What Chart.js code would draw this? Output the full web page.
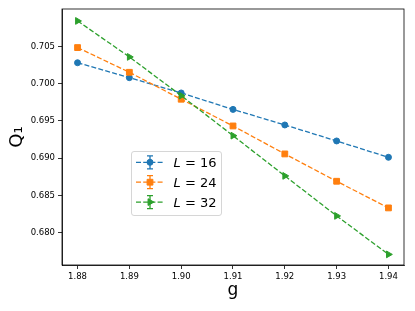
<!DOCTYPE html>
<html lang="en">
<head>
    <meta charset="UTF-8">
    <title>Q1 vs g</title>
    <script src="https://cdn.jsdelivr.net/npm/chart.js"></script>
    <style>
        html, body { margin: 0; padding: 0; background: #fff; }
        .chart-container { width: 415px; height: 311px; }
    </style>
</head>
<body>
    <div class="chart-container">
        <canvas id="q1Chart"></canvas>
    </div>

    <script>
        // data
        const gValues = [1.88, 1.89, 1.90, 1.91, 1.92, 1.93, 1.94];
        const sizes = [16, 24, 32];
        const q1L16 = [0.7028, 0.7008, 0.69875, 0.69655, 0.69446, 0.69232, 0.69013];
        const q1L24 = [0.70483, 0.70152, 0.69791, 0.69433, 0.69058, 0.68692, 0.68335];
        const q1L32 = [0.7084, 0.70358, 0.69839, 0.69303, 0.68764, 0.68228, 0.67712];
        const xTicks = [1.88, 1.89, 1.90, 1.91, 1.92, 1.93, 1.94];
        const yTicks = [0.680, 0.685, 0.690, 0.695, 0.700, 0.705];

        const colors = ['#1f77b4', '#ff7f0e', '#2ca02c'];
        const markers = [
            { pointStyle: 'circle', rotation: 0, radius: 3 },
            { pointStyle: 'rect', rotation: 0, radius: 4.1 },
            { pointStyle: 'triangle', rotation: 90, radius: 3.9 }
        ];
        const seriesValues = [q1L16, q1L24, q1L32];
        const tickFont = { family: 'DejaVu Sans', size: 8.5 };

        function makeDataset(i) {
            return {
                label: 'L = ' + sizes[i],
                data: gValues.map((g, k) => ({ x: g, y: seriesValues[i][k] })),
                borderColor: colors[i],
                backgroundColor: colors[i],
                borderWidth: 1.3,
                borderDash: [5, 2.2],
                pointStyle: markers[i].pointStyle,
                pointRotation: markers[i].rotation,
                pointRadius: markers[i].radius,
                pointBorderWidth: 1,
                pointBorderColor: colors[i],
                pointBackgroundColor: colors[i],
                tension: 0,
                order: 3 - i
            };
        }

        // matplotlib style frame round the plot area
        const framePlugin = {
            id: 'frame',
            afterDraw(chart) {
                const { ctx, chartArea: a } = chart;
                ctx.save();
                ctx.strokeStyle = '#000';
                ctx.lineWidth = 0.8;
                ctx.strokeRect(a.left, a.top, a.right - a.left, a.bottom - a.top);
                ctx.restore();
            }
        };

        // legend with error bar handles, placed inside the axes
        const legendPlugin = {
            id: 'innerLegend',
            afterDraw(chart) {
                const ctx = chart.ctx;
                const box = { x: 131, y: 151, w: 90, h: 64 };
                ctx.save();
                ctx.beginPath();
                ctx.roundRect(box.x + 0.5, box.y + 0.5, box.w, box.h, 2.5);
                ctx.fillStyle = 'rgba(255,255,255,0.8)';
                ctx.fill();
                ctx.strokeStyle = '#cccccc';
                ctx.lineWidth = 0.8;
                ctx.stroke();

                sizes.forEach((L, i) => {
                    const cy = 162.3 + i * 19.9;
                    const cx = 150;
                    ctx.strokeStyle = colors[i];
                    ctx.fillStyle = colors[i];
                    ctx.lineWidth = 1.3;
                    ctx.setLineDash([5, 2.2]);
                    ctx.beginPath();
                    ctx.moveTo(136, cy);
                    ctx.lineTo(163, cy);
                    ctx.stroke();
                    ctx.setLineDash([]);
                    ctx.beginPath();
                    ctx.moveTo(cx, cy - 6.5);
                    ctx.lineTo(cx, cy + 6.5);
                    ctx.moveTo(cx - 3, cy - 6.5);
                    ctx.lineTo(cx + 3, cy - 6.5);
                    ctx.moveTo(cx - 3, cy + 6.5);
                    ctx.lineTo(cx + 3, cy + 6.5);
                    ctx.stroke();
                    ctx.lineWidth = 1;
                    Chart.helpers.drawPoint(ctx, {
                        pointStyle: markers[i].pointStyle,
                        rotation: markers[i].rotation,
                        radius: markers[i].radius,
                        borderWidth: 1
                    }, cx, cy);

                    ctx.fillStyle = '#000';
                    ctx.textBaseline = 'alphabetic';
                    ctx.textAlign = 'left';
                    ctx.font = 'italic 13px "DejaVu Sans"';
                    ctx.fillText('L', 173.5, cy + 4.6);
                    const lw = ctx.measureText('L').width;
                    ctx.font = '13px "DejaVu Sans"';
                    ctx.fillText(' = ' + L, 173.5 + lw, cy + 4.6);
                });
                ctx.restore();
            }
        };

        new Chart(document.getElementById('q1Chart').getContext('2d'), {
            type: 'line',
            data: { datasets: [0, 1, 2].map(makeDataset) },
            options: {
                responsive: true,
                maintainAspectRatio: false,
                animation: false,
                layout: { padding: { top: 9, right: 11, left: 0, bottom: 0 } },
                plugins: { legend: { display: false }, tooltip: { enabled: false } },
                scales: {
                    x: {
                        type: 'linear',
                        min: 1.877,
                        max: 1.943,
                        afterBuildTicks: s => { s.ticks = xTicks.map(v => ({ value: v })); },
                        afterFit: s => { s.height = 46; },
                        grid: { drawOnChartArea: false, tickLength: 4, color: '#000', lineWidth: 0.8 },
                        border: { display: true, color: '#000', width: 0.8 },
                        ticks: {
                            color: '#000', font: tickFont, padding: 2.5, maxRotation: 0,
                            callback: v => v.toFixed(2)
                        },
                        title: {
                            display: true, text: 'g', color: '#000',
                            font: { family: 'DejaVu Sans', size: 17 },
                            padding: { top: 0, bottom: 10 }
                        }
                    },
                    y: {
                        min: 0.6757,
                        max: 0.7100,
                        afterBuildTicks: s => { s.ticks = yTicks.map(v => ({ value: v })); },
                        afterFit: s => { s.width = 62; },
                        grid: { drawOnChartArea: false, tickLength: 4, color: '#000', lineWidth: 0.8 },
                        border: { display: true, color: '#000', width: 0.8 },
                        ticks: {
                            color: '#000', font: tickFont, padding: 3,
                            callback: v => v.toFixed(3)
                        },
                        title: {
                            display: true, text: 'Q₁', color: '#000',
                            font: { family: 'DejaVu Sans', size: 18 },
                            padding: { top: 7, bottom: 0 }
                        }
                    }
                }
            },
            plugins: [framePlugin, legendPlugin]
        });
    </script>
</body>
</html>
